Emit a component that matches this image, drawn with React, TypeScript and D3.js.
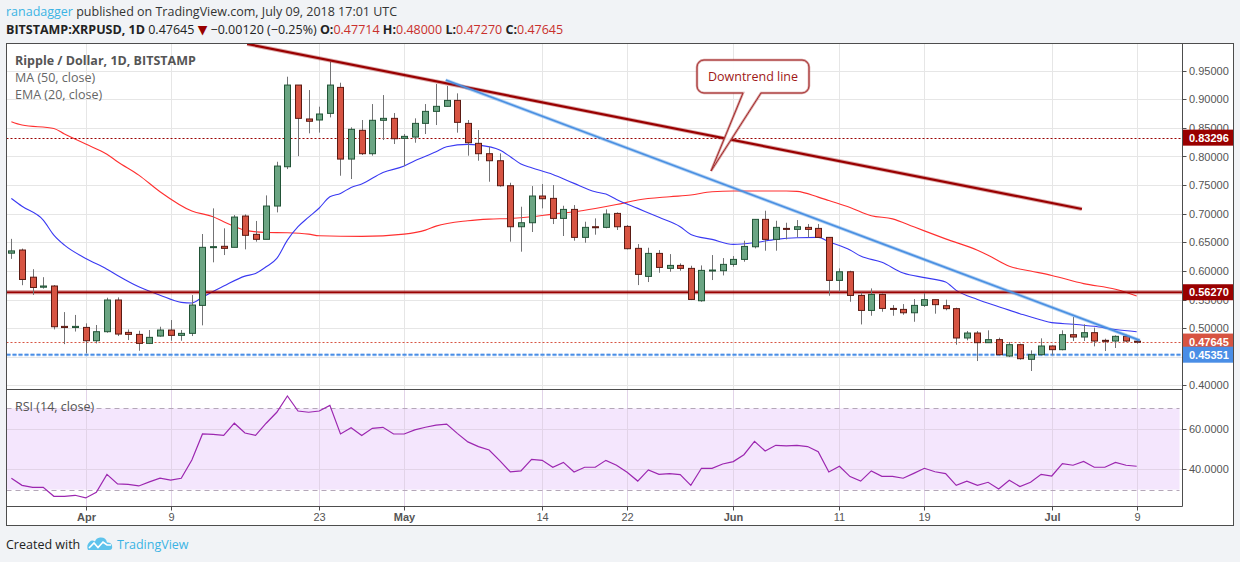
import React from 'react';
import * as d3 from 'd3';

// ---------- DATA ----------
const startDate = '2018-03-25';
const endDate = '2018-07-09';

const opens = [
  0.631, 0.6365, 0.589, 0.5715, 0.5736, 0.503, 0.501,
  0.5012, 0.4779, 0.4937, 0.5491, 0.4925, 0.489, 0.4733, 0.4861, 0.4966, 0.4873,
  0.4908, 0.5397, 0.6418, 0.643, 0.6412, 0.6959, 0.6639, 0.6552, 0.7134, 0.7821,
  0.9249, 0.8656, 0.8638, 0.8754, 0.9208, 0.7955, 0.8458, 0.8049, 0.8633, 0.8667,
  0.8317, 0.834, 0.8579, 0.8789, 0.8877, 0.8981, 0.8579, 0.823, 0.8049, 0.7926,
  0.7489, 0.6772, 0.6842, 0.7309, 0.7268, 0.6918, 0.7075, 0.6586, 0.6772, 0.6761,
  0.7005, 0.6778, 0.6394, 0.5904, 0.6306, 0.6044, 0.6096, 0.6044, 0.5478, 0.6003, 0.6003,
  0.6114, 0.6201, 0.6422, 0.6901, 0.6551, 0.6743, 0.6726, 0.6761, 0.6743, 0.6586,
  0.5834, 0.5985, 0.5571, 0.5309, 0.5589, 0.5344, 0.5327, 0.5268, 0.5398, 0.5497,
  0.5392, 0.534, 0.4827, 0.4914, 0.4745, 0.4798, 0.4512, 0.471, 0.4454, 0.4535,
  0.4687, 0.4623, 0.4885, 0.4844, 0.492, 0.4786, 0.4774, 0.4856, 0.47714,
];
const highs = [
  0.656, 0.639, 0.603, 0.589, 0.5753, 0.528, 0.523,
  0.5083, 0.5054, 0.5531, 0.5537, 0.4977, 0.4954, 0.4966, 0.5024, 0.5141, 0.4966,
  0.5578, 0.6645, 0.7093, 0.6744, 0.6976, 0.6988, 0.6873, 0.732, 0.7908, 0.9395,
  0.925, 0.9162, 0.8871, 0.9657, 0.929, 0.851, 0.8638, 0.8917, 0.9074, 0.876,
  0.8393, 0.8667, 0.8917, 0.9267, 0.9232, 0.9104, 0.8638, 0.8463, 0.8171, 0.8054,
  0.7541, 0.7122, 0.7483, 0.7518, 0.7501, 0.7139, 0.7151, 0.686, 0.6918, 0.7075,
  0.7023, 0.6802, 0.6469, 0.6405, 0.6364, 0.6294, 0.6131, 0.609, 0.6096, 0.6277, 0.6224,
  0.6259, 0.6528, 0.6905, 0.7052, 0.6877, 0.6842, 0.6889, 0.6819, 0.6819, 0.6586,
  0.6044, 0.6003, 0.5618, 0.5694, 0.5606, 0.5402, 0.542, 0.5507, 0.5614, 0.5497,
  0.5497, 0.5357, 0.4949, 0.4949, 0.4961, 0.4833, 0.4757, 0.4728, 0.4611, 0.4821,
  0.4698, 0.4961, 0.5194, 0.5066, 0.5007, 0.4815, 0.4873, 0.4885, 0.48,
];
const lows = [
  0.621, 0.575, 0.558, 0.569, 0.4977, 0.472, 0.494,
  0.4558, 0.4733, 0.4919, 0.4861, 0.4791, 0.4604, 0.4721, 0.4849, 0.4779, 0.4779,
  0.4861, 0.5048, 0.615, 0.6277, 0.6412, 0.6377, 0.6511, 0.6552, 0.7023, 0.778,
  0.8007, 0.8405, 0.8417, 0.8684, 0.7664, 0.7606, 0.8026, 0.8014, 0.8288, 0.8218,
  0.7833, 0.8241, 0.8393, 0.855, 0.8871, 0.8417, 0.8014, 0.7926, 0.7559, 0.7472,
  0.6511, 0.6336, 0.668, 0.7093, 0.6819, 0.661, 0.6528, 0.6493, 0.6633, 0.6744,
  0.6715, 0.6376, 0.5752, 0.5805, 0.5968, 0.5985, 0.6003, 0.549, 0.5461, 0.584, 0.5921,
  0.6073, 0.616, 0.6394, 0.6353, 0.6353, 0.6551, 0.6586, 0.6586, 0.658, 0.5566,
  0.5636, 0.5461, 0.5064, 0.5216, 0.5286, 0.5216, 0.5233, 0.5111, 0.5369, 0.5252,
  0.5311, 0.471, 0.4786, 0.4424, 0.4739, 0.4524, 0.4494, 0.4448, 0.425, 0.4524,
  0.4524, 0.4611, 0.4774, 0.4774, 0.4681, 0.4599, 0.4652, 0.4757, 0.4727,
];
const closes = [
  0.635, 0.585, 0.571, 0.5736, 0.5024, 0.501, 0.503,
  0.4779, 0.4937, 0.5491, 0.4896, 0.489, 0.4733, 0.4838, 0.4966, 0.4873, 0.4908,
  0.5403, 0.6412, 0.6424, 0.6394, 0.6941, 0.6622, 0.6552, 0.7134, 0.7833, 0.9249,
  0.8667, 0.8616, 0.8743, 0.9249, 0.7955, 0.8475, 0.8049, 0.8633, 0.8667, 0.8311,
  0.8352, 0.8579, 0.8789, 0.8877, 0.8981, 0.8597, 0.8241, 0.8049, 0.7926, 0.7489,
  0.6772, 0.6842, 0.7309, 0.7262, 0.6918, 0.7075, 0.6586, 0.6761, 0.6755, 0.6994,
  0.6772, 0.6388, 0.5939, 0.6306, 0.6061, 0.6096, 0.6044, 0.5501, 0.6009, 0.6015, 0.6114,
  0.6201, 0.6428, 0.6901, 0.6551, 0.6761, 0.6726, 0.6772, 0.6726, 0.6586, 0.5834,
  0.5985, 0.5571, 0.5309, 0.5589, 0.5344, 0.5327, 0.5268, 0.5397, 0.5497, 0.541,
  0.534, 0.4827, 0.4914, 0.4745, 0.4798, 0.4535, 0.471, 0.4465, 0.4535, 0.4687,
  0.4623, 0.4885, 0.4844, 0.492, 0.4774, 0.4774, 0.4856, 0.4774, 0.47645,
];
const rsiValues = [
  35.6, 32.1, 31.1, 31.1, 26.7, 26.7, 27.2,
  25.9, 28.7, 37.5, 32.8, 32.6, 31.8, 33.8, 35.6, 34.7, 35.6,
  44.6, 57.4, 57.2, 56.7, 62.7, 57.9, 56.7, 62.7, 68.1, 76.1,
  68.7, 68.1, 68.7, 71.5, 57.4, 60.5, 56.7, 60.2, 60.7, 57.4,
  57.4, 59.4, 60.7, 61.8, 62.3, 57.7, 53.5, 51.2, 49.5, 44.3,
  38.7, 39.2, 44.9, 44.4, 41.0, 43.4, 38.7, 41.0, 41.0, 44.4,
  42.0, 38.5, 34.2, 39.7, 37.5, 37.9, 37.4, 32.1, 40.5, 40.5, 42.6,
  43.8, 47.2, 53.8, 49.0, 51.8, 51.5, 51.8, 51.2, 48.7, 38.7,
  41.5, 36.4, 34.2, 39.2, 36.5, 36.5, 35.6, 38.0, 40.5, 38.8,
  37.9, 32.1, 34.2, 32.1, 33.6, 30.3, 34.6, 31.5, 33.6, 37.5,
  36.7, 42.8, 42.0, 43.9, 41.0, 41.0, 43.4, 42.0, 41.5,
];

const ema20: [string, number][] = [
  ['2018-03-25', 0.7267], ['2018-03-26', 0.713], ['2018-03-28', 0.6888], ['2018-03-29', 0.6626],
  ['2018-03-30', 0.645], ['2018-04-01', 0.6218], ['2018-04-03', 0.603], ['2018-04-04', 0.592],
  ['2018-04-06', 0.5722], ['2018-04-08', 0.5576], ['2018-04-10', 0.545], ['2018-04-11', 0.544],
  ['2018-04-12', 0.554], ['2018-04-14', 0.5735], ['2018-04-16', 0.5909], ['2018-04-17', 0.5955],
  ['2018-04-18', 0.6072], ['2018-04-19', 0.6218], ['2018-04-20', 0.6538], ['2018-04-21', 0.6772],
  ['2018-04-22', 0.694], ['2018-04-23', 0.71], ['2018-04-24', 0.7296], ['2018-04-25', 0.7355],
  ['2018-04-26', 0.746], ['2018-04-27', 0.752], ['2018-04-29', 0.772], ['2018-05-01', 0.7833],
  ['2018-05-02', 0.7926], ['2018-05-04', 0.8083], ['2018-05-05', 0.8171], ['2018-05-07', 0.8212],
  ['2018-05-08', 0.82], ['2018-05-10', 0.8113], ['2018-05-11', 0.7996], ['2018-05-12', 0.7868],
  ['2018-05-13', 0.7804], ['2018-05-15', 0.7687], ['2018-05-17', 0.753], ['2018-05-19', 0.7384],
  ['2018-05-20', 0.7343], ['2018-05-21', 0.725], ['2018-05-23', 0.7093], ['2018-05-25', 0.6936],
  ['2018-05-27', 0.6772], ['2018-05-28', 0.6638], ['2018-05-30', 0.6551], ['2018-06-01', 0.6463],
  ['2018-06-03', 0.6493], ['2018-06-05', 0.6551], ['2018-06-07', 0.658], ['2018-06-09', 0.6586],
  ['2018-06-10', 0.651], ['2018-06-12', 0.6364], ['2018-06-13', 0.6259], ['2018-06-15', 0.615],
  ['2018-06-17', 0.5964], ['2018-06-19', 0.5882], ['2018-06-21', 0.5806], ['2018-06-22', 0.566],
  ['2018-06-24', 0.55], ['2018-06-26', 0.5375], ['2018-06-28', 0.5252], ['2018-06-30', 0.514],
  ['2018-07-01', 0.5095], ['2018-07-03', 0.5068], ['2018-07-05', 0.5031], ['2018-07-07', 0.4975],
  ['2018-07-09', 0.4937],
];

const ma50: [string, number][] = [
  ['2018-03-25', 0.8608], ['2018-03-26', 0.855], ['2018-03-29', 0.8491], ['2018-03-30', 0.8392],
  ['2018-04-01', 0.8217], ['2018-04-03', 0.804], ['2018-04-04', 0.7908], ['2018-04-06', 0.7675],
  ['2018-04-08', 0.7384], ['2018-04-11', 0.7046], ['2018-04-13', 0.6947], ['2018-04-14', 0.6859],
  ['2018-04-16', 0.6713], ['2018-04-18', 0.6672], ['2018-04-20', 0.6667], ['2018-04-22', 0.6643],
  ['2018-04-23', 0.6614], ['2018-04-27', 0.6603], ['2018-05-01', 0.6643], ['2018-05-03', 0.6713],
  ['2018-05-04', 0.6783], ['2018-05-07', 0.6877], ['2018-05-09', 0.6906], ['2018-05-11', 0.6917],
  ['2018-05-13', 0.6947], ['2018-05-15', 0.6993], ['2018-05-17', 0.7034], ['2018-05-19', 0.7092],
  ['2018-05-21', 0.716], ['2018-05-23', 0.7239], ['2018-05-26', 0.7297], ['2018-05-28', 0.7326],
  ['2018-05-30', 0.7385], ['2018-06-01', 0.7396], ['2018-06-06', 0.7396], ['2018-06-07', 0.739],
  ['2018-06-09', 0.729], ['2018-06-10', 0.723], ['2018-06-12', 0.711], ['2018-06-14', 0.6965],
  ['2018-06-16', 0.691], ['2018-06-18', 0.677], ['2018-06-21', 0.656], ['2018-06-24', 0.636],
  ['2018-06-25', 0.6273], ['2018-06-27', 0.608], ['2018-06-29', 0.5999], ['2018-07-01', 0.592],
  ['2018-07-04', 0.5777], ['2018-07-07', 0.5678], ['2018-07-09', 0.5561],
];

const downtrendLine: [string, number][] = [['2018-04-16T05:00:00Z', 0.9967], ['2018-07-03T20:00:00Z', 0.7082]];
const blueTrendLine: [string, number][] = [['2018-05-04T22:00:00Z', 0.9337], ['2018-07-09T07:00:00Z', 0.4786]];

const priceTicks = [0.4, 0.45, 0.5, 0.55, 0.6, 0.65, 0.7, 0.75, 0.8, 0.85, 0.9, 0.95];
const rsiTicks = [60, 40];
const timeTicks: [string, string, boolean][] = [
  ['2018-04-01', 'Apr', true], ['2018-04-09', '9', false], ['2018-04-23', '23', false],
  ['2018-05-01', 'May', true], ['2018-05-14', '14', false], ['2018-05-22', '22', false],
  ['2018-06-01', 'Jun', true], ['2018-06-11', '11', false], ['2018-06-19', '19', false],
  ['2018-07-01', 'Jul', true], ['2018-07-09', '9', false],
];
const priceLines = [
  { value: 0.83296, color: '#990000', kind: 'dotted' },
  { value: 0.5627, color: '#990000', kind: 'thick' },
  { value: 0.47645, color: '#d75442', kind: 'dotted' },
  { value: 0.45351, color: '#4a8ee6', kind: 'dashed' },
];

// ---------- LAYOUT ----------
const W = 1240, H = 562;
const LEFT = 6.5, PLOT_R = 1182.5, RIGHT = 1233.5, TOP = 43.5, PRICE_B = 389.5, RSI_B = 506.5, BOTTOM = 525.5;
const UI = "'Open Sans', 'DejaVu Sans', sans-serif";
const AX = "'Liberation Sans', Arial, sans-serif";

export default function App() {
  const days = d3.utcDay.range(new Date(startDate), d3.utcDay.offset(new Date(endDate), 1));
  const x = d3.scaleUtc().domain([new Date('2018-04-01'), new Date('2018-07-09')]).range([85.7, 1136.7]);
  const y = d3.scaleLinear().domain([0.4, 0.95]).range([385.3, 70.7]);
  const yr = d3.scaleLinear().domain([40, 60]).range([469.3, 428.7]);

  const lineP = d3.line<[string, number]>().x(d => x(new Date(d[0]))).y(d => y(d[1])).curve(d3.curveMonotoneX);
  const lineStraight = d3.line<[string, number]>().x(d => x(new Date(d[0]))).y(d => y(d[1]));
  const rsiLine = d3.line<number>().x((_, i) => x(days[i])).y(d => yr(d));

  const candles = days.map((day, i) => ({ day, o: opens[i], h: highs[i], l: lows[i], c: closes[i] }));

  const box = { x0: 697, x1: 809, y0: 60, y1: 93, r: 7 };
  const calloutPath = `M${box.x0 + box.r},${box.y0} H${box.x1 - box.r} A${box.r},${box.r} 0 0 1 ${box.x1},${box.y0 + box.r} V${box.y1 - box.r} A${box.r},${box.r} 0 0 1 ${box.x1 - box.r},${box.y1} H761 L711,171 L743,${box.y1} H${box.x0 + box.r} A${box.r},${box.r} 0 0 1 ${box.x0},${box.y1 - box.r} V${box.y0 + box.r} A${box.r},${box.r} 0 0 1 ${box.x0 + box.r},${box.y0} Z`;

  return (
    <svg width={W} height={H} style={{ position: 'absolute', left: 0, top: 0 }} xmlns="http://www.w3.org/2000/svg">
      <defs>
        <clipPath id="pricePane"><rect x={LEFT} y={TOP} width={PLOT_R - LEFT} height={PRICE_B - TOP} /></clipPath>
        <clipPath id="rsiPane"><rect x={LEFT} y={PRICE_B} width={PLOT_R - LEFT} height={RSI_B - PRICE_B} /></clipPath>
      </defs>
      <rect x={0} y={0} width={W} height={H} fill="#f1f3f6" />
      <rect x={LEFT} y={TOP} width={RIGHT - LEFT} height={BOTTOM - TOP} fill="#ffffff" />

      {/* header */}
      <text x={6} y={16} fontFamily={UI} fontSize={12.5} fill="#333">
        <tspan fill="#3bb3e4">ranadagger</tspan>
        <tspan> published on TradingView.com, July 09, 2018 17:01 UTC</tspan>
      </text>
      <text x={6} y={34} fontFamily={UI} fontSize={12.5} fill="#222">
        <tspan fontWeight="bold">BITSTAMP:XRPUSD, 1D</tspan>
        <tspan> 0.47645 </tspan>
        <tspan fill="#990000">▼</tspan>
        <tspan> −0.00120 (−0.25%) </tspan>
        <tspan fontWeight="bold">O:</tspan><tspan fill="#c9302c">0.47714</tspan>
        <tspan fontWeight="bold"> H:</tspan><tspan fill="#c9302c">0.48000</tspan>
        <tspan fontWeight="bold"> L:</tspan><tspan fill="#c9302c">0.47270</tspan>
        <tspan fontWeight="bold"> C:</tspan><tspan fill="#c9302c">0.47645</tspan>
      </text>

      {/* grid: price */}
      <g stroke="#e6e6e6" strokeWidth={1}>
        {priceTicks.map(t => (
          <line key={'pg' + t} x1={LEFT} x2={PLOT_R} y1={Math.round(y(t)) + 0.5} y2={Math.round(y(t)) + 0.5} />
        ))}
        {timeTicks.map(([d]) => (
          <line key={'vg' + d} x1={Math.round(x(new Date(d))) + 0.5} x2={Math.round(x(new Date(d))) + 0.5} y1={TOP} y2={PRICE_B} />
        ))}
      </g>

      {/* RSI pane background band & grid */}
      <rect x={LEFT} y={yr(70)} width={PLOT_R - LEFT - 3} height={yr(30) - yr(70)} fill="#f4e6fd" />
      <g stroke="#e2d4e8" strokeWidth={1}>
        {timeTicks.map(([d]) => (
          <line key={'rvg' + d} x1={Math.round(x(new Date(d))) + 0.5} x2={Math.round(x(new Date(d))) + 0.5} y1={PRICE_B} y2={RSI_B} />
        ))}
        {rsiTicks.map(t => (
          <line key={'rg' + t} x1={LEFT} x2={PLOT_R} y1={Math.round(yr(t)) + 0.5} y2={Math.round(yr(t)) + 0.5} />
        ))}
      </g>
      {[70, 30].map(t => (
        <line key={'rd' + t} x1={LEFT} x2={PLOT_R - 3} y1={Math.round(yr(t)) + 0.5} y2={Math.round(yr(t)) + 0.5}
          stroke="#b4a7b8" strokeDasharray="5,4" strokeWidth={1} />
      ))}
      <g clipPath="url(#rsiPane)">
        <path d={rsiLine(rsiValues) || ''} fill="none" stroke="#9c27b0" strokeWidth={1.2} />
      </g>
      <text x={15} y={411} fontFamily={UI} fontSize={12.5} fill="#555">RSI (14, close)</text>

      {/* price pane */}
      <g clipPath="url(#pricePane)">
        <path d={lineP(ma50) || ''} fill="none" stroke="#ff3030" strokeWidth={1.1} />
        <path d={lineP(ema20) || ''} fill="none" stroke="#3a3af2" strokeWidth={1.1} />

        {/* horizontal price lines */}
        {priceLines.map(pl => {
          const yy = y(pl.value);
          if (pl.kind === 'thick') {
            return (
              <g key={'pl' + pl.value}>
                <line x1={LEFT} x2={PLOT_R} y1={yy} y2={yy} stroke={pl.color} strokeOpacity={0.45} strokeWidth={4} />
                <line x1={LEFT} x2={PLOT_R} y1={yy} y2={yy} stroke={pl.color} strokeWidth={1.6} />
              </g>
            );
          }
          if (pl.kind === 'dashed') {
            return (
              <g key={'pl' + pl.value}>
                <line x1={LEFT} x2={PLOT_R} y1={yy} y2={yy} stroke={pl.color} strokeOpacity={0.45} strokeWidth={3} strokeDasharray="4,2" />
                <line x1={LEFT} x2={PLOT_R} y1={yy} y2={yy} stroke={pl.color} strokeWidth={1.5} strokeDasharray="4,2" />
              </g>
            );
          }
          return (
            <line key={'pl' + pl.value} x1={LEFT} x2={PLOT_R} y1={Math.round(yy) + 0.5} y2={Math.round(yy) + 0.5}
              stroke={pl.color} strokeWidth={1} strokeDasharray="2,2" />
          );
        })}

        {/* candles */}
        {candles.map((cd, i) => {
          const cx = Math.round(x(cd.day)) + 0.5;
          const up = cd.c >= cd.o;
          const top = y(Math.max(cd.o, cd.c));
          const bot = y(Math.min(cd.o, cd.c));
          const hgt = Math.max(1, bot - top);
          return (
            <g key={'c' + i}>
              <line x1={cx} x2={cx} y1={y(cd.h)} y2={y(cd.l)} stroke="#737375" strokeWidth={1} />
              <rect x={cx - 3} y={top} width={6} height={hgt}
                fill={up ? '#6ba583' : '#d75442'} stroke={up ? '#225437' : '#5b1a13'} strokeWidth={1} />
            </g>
          );
        })}

        {/* trend lines */}
        <path d={lineStraight(downtrendLine) || ''} stroke="#990000" strokeOpacity={0.35} strokeWidth={4} fill="none" />
        <path d={lineStraight(downtrendLine) || ''} stroke="#990000" strokeWidth={2.2} fill="none" />
        <path d={lineStraight(blueTrendLine) || ''} stroke="#4a90e2" strokeOpacity={0.4} strokeWidth={3.5} fill="none" />
        <path d={lineStraight(blueTrendLine) || ''} stroke="#4a90e2" strokeWidth={1.8} fill="none" />

        {/* callout */}
        <path d={calloutPath} fill="#ffffff" fillOpacity={0.95} stroke="#b34a4a" strokeOpacity={0.5} strokeWidth={2.5} />
        <path d={calloutPath} fill="none" stroke="#a32a2a" strokeWidth={1} />
        <text x={(box.x0 + box.x1) / 2} y={81} textAnchor="middle" fontFamily={UI} fontSize={12.5} fill="#a01818">Downtrend line</text>
      </g>

      {/* legend */}
      <text x={15} y={65} fontFamily={UI} fontSize={12.5} fontWeight="bold" fill="#555">Ripple / Dollar, 1D, BITSTAMP</text>
      <text x={15} y={82} fontFamily={UI} fontSize={12.5} fill="#666">MA (50, close)</text>
      <text x={15} y={99} fontFamily={UI} fontSize={12.5} fill="#666">EMA (20, close)</text>

      {/* frames */}
      <g stroke="#4d4d4d" strokeWidth={1} fill="none">
        <rect x={LEFT} y={TOP} width={RIGHT - LEFT} height={BOTTOM - TOP} />
        <line x1={LEFT} x2={PLOT_R} y1={PRICE_B} y2={PRICE_B} />
        <line x1={LEFT} x2={PLOT_R} y1={RSI_B} y2={RSI_B} />
        <line x1={PLOT_R} x2={PLOT_R} y1={TOP} y2={RSI_B} />
      </g>

      {/* price axis */}
      {priceTicks.map(t => (
        <g key={'pt' + t}>
          <line x1={PLOT_R} x2={PLOT_R + 4} y1={Math.round(y(t)) + 0.5} y2={Math.round(y(t)) + 0.5} stroke="#4d4d4d" />
          <text x={1189} y={y(t) + 4} fontFamily={AX} fontSize={11} fill="#555">{t.toFixed(5)}</text>
        </g>
      ))}
      {priceLines.map(pl => (
        <g key={'pb' + pl.value}>
          <rect x={PLOT_R + 0.5} y={y(pl.value) - 8} width={RIGHT - PLOT_R - 1} height={16} fill={pl.color} />
          <text x={1189} y={y(pl.value) + 4} fontFamily={AX} fontSize={11} fontWeight="bold" fill="#ffffff">{pl.value.toFixed(5)}</text>
        </g>
      ))}

      {/* rsi axis */}
      {rsiTicks.map(t => (
        <g key={'rt' + t}>
          <line x1={PLOT_R} x2={PLOT_R + 4} y1={Math.round(yr(t)) + 0.5} y2={Math.round(yr(t)) + 0.5} stroke="#4d4d4d" />
          <text x={1189} y={yr(t) + 4} fontFamily={AX} fontSize={11} fill="#555">{t.toFixed(4)}</text>
        </g>
      ))}

      {/* time axis */}
      {timeTicks.map(([d, label, bold]) => {
        const tx = Math.round(x(new Date(d))) + 0.5;
        return (
          <g key={'tt' + d}>
            <line x1={tx} x2={tx} y1={RSI_B} y2={RSI_B + 4} stroke="#4d4d4d" />
            <text x={tx} y={521} textAnchor="middle" fontFamily={AX} fontSize={11} fontWeight={bold ? 'bold' : 'normal'} fill="#555">{label}</text>
          </g>
        );
      })}

      {/* footer */}
      <text x={6} y={549} fontFamily={UI} fontSize={12.5} fill="#222">Created with</text>
      <g>
        <path d="M88,550 L109,550 Q113,550 112,545.5 Q111,542 107,542.5 Q106,537 100,537.5 Q96,538 95,541.5 Q92,539.5 89.5,542 Q86,545 88,550 Z" fill="#5ec3ec" />
        <polyline points="89,548 94,543 98,547.5 103,542 107,545 111,545" fill="none" stroke="#ffffff" strokeWidth={1.6} />
      </g>
      <text x={117} y={549} fontFamily={UI} fontSize={12.5} fill="#3bb3e4">TradingView</text>
    </svg>
  );
}
